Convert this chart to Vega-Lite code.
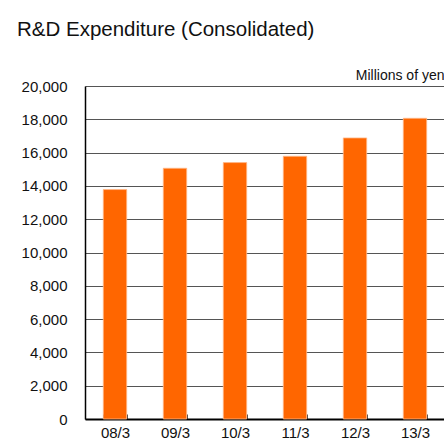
{
  "$schema": "https://vega.github.io/schema/vega-lite/v6.json",
  "width": 360,
  "height": 333,
  "autosize": "none",
  "padding": {"left": 85, "top": 86, "right": 0, "bottom": 29},
  "background": "white",
  "title": {
    "text": "R&D Expenditure  (Consolidated)",
    "anchor": "start",
    "frame": "group",
    "dx": -68,
    "offset": 12,
    "baseline": "alphabetic",
    "fontSize": 20.5,
    "font": "Liberation Sans",
    "fontWeight": "normal",
    "color": "#111"
  },
  "data": {
    "values": [
      {"period": "08/3", "value": 13780},
      {"period": "09/3", "value": 15060},
      {"period": "10/3", "value": 15400},
      {"period": "11/3", "value": 15780},
      {"period": "12/3", "value": 16880},
      {"period": "13/3", "value": 18060}
    ]
  },
  "config": {
    "view": {"stroke": null},
    "axis": {"labelFont": "Liberation Sans", "titleFont": "Liberation Sans"}
  },
  "mark": {"type": "bar", "color": "#FF6600", "stroke": "#FFB788", "strokeWidth": 0.8},
  "encoding": {
    "x": {
      "field": "period",
      "type": "ordinal",
      "sort": null,
      "scale": {"paddingInner": 0.61, "paddingOuter": 0.305},
      "axis": {
        "title": null,
        "labelAngle": 0,
        "labelFontSize": 15,
        "labelColor": "#111",
        "labelPadding": 11,
        "domainColor": "#000",
        "domainWidth": 2,
        "ticks": true,
        "tickBand": "extent",
        "tickSize": -5,
        "tickColor": "#444",
        "grid": false
      }
    },
    "y": {
      "field": "value",
      "type": "quantitative",
      "scale": {"domain": [0, 20000], "nice": false},
      "axis": {
        "title": "Millions of yen",
        "titleAngle": 0,
        "titleAlign": "right",
        "titleBaseline": "bottom",
        "titleX": 359,
        "titleY": -4,
        "titleFontSize": 14,
        "titleFontWeight": "normal",
        "titleColor": "#111",
        "values": [0, 2000, 4000, 6000, 8000, 10000, 12000, 14000, 16000, 18000, 20000],
        "format": ",.0f",
        "labelFontSize": 15,
        "labelColor": "#111",
        "labelPadding": 18,
        "ticks": false,
        "domainColor": "#000",
        "domainWidth": 1.5,
        "grid": true,
        "gridColor": "#555",
        "gridWidth": 1.2,
        "gridOpacity": 1
      }
    }
  }
}
